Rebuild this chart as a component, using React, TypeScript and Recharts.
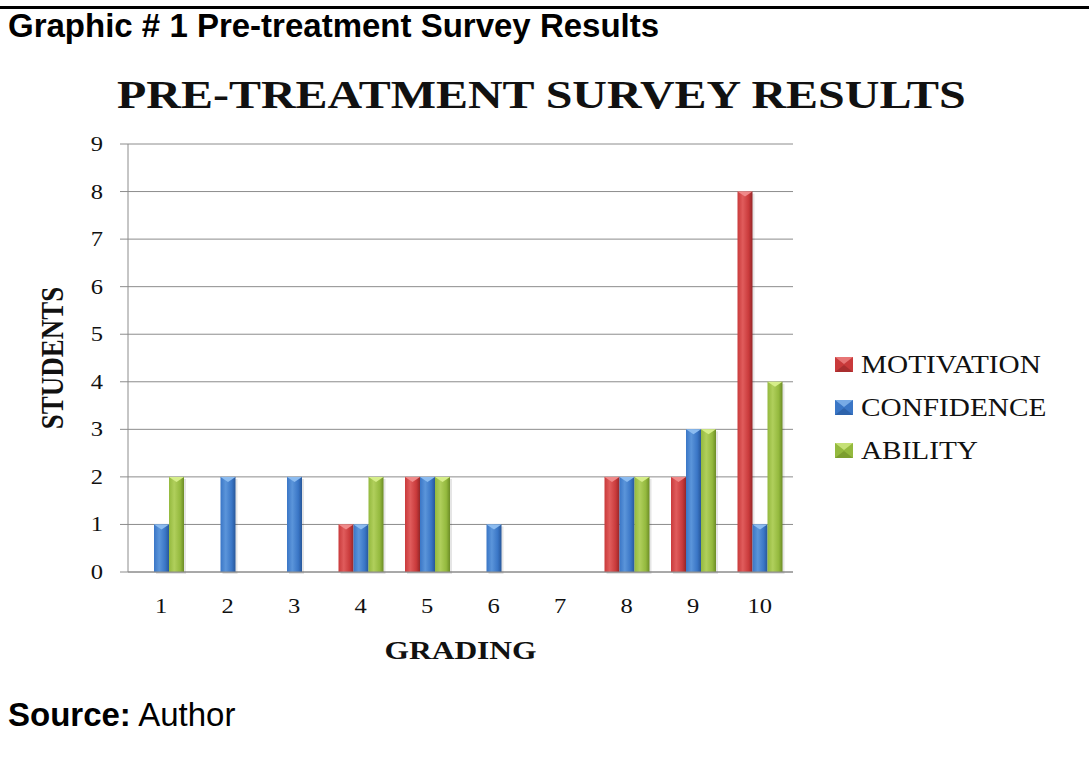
import React from "react";
import { Bar, BarChart, CartesianGrid, XAxis, YAxis } from "recharts";

const GRADES = ["1", "2", "3", "4", "5", "6", "7", "8", "9", "10"];
const MOTIVATION = [0, 0, 0, 1, 2, 0, 0, 2, 2, 8];
const CONFIDENCE = [1, 2, 2, 1, 2, 1, 0, 2, 3, 1];
const ABILITY = [2, 0, 0, 2, 2, 0, 0, 2, 3, 4];
const Y_TICKS = [0, 1, 2, 3, 4, 5, 6, 7, 8, 9];

const SERIES = [
  { key: "motivation", name: "MOTIVATION", light: "#e05c5c", base: "#c93a3b", dark: "#952628", top: "#f08a8a" },
  { key: "confidence", name: "CONFIDENCE", light: "#5b95da", base: "#3a76c6", dark: "#27579a", top: "#8cbcf0" },
  { key: "ability", name: "ABILITY", light: "#b0cf5c", base: "#94b93e", dark: "#6c8c26", top: "#d6ee8a" },
];

const data = GRADES.map((g, i) => ({
  grade: g,
  motivation: MOTIVATION[i],
  confidence: CONFIDENCE[i],
  ability: ABILITY[i],
}));

const SERIF = "'Liberation Serif', 'Times New Roman', serif";
const SANS = "'Liberation Sans', Arial, sans-serif";
const GRID = "#8c8c8c";
const STRETCH = 1.17;

function Bar3D(props: any) {
  const { x, y, width, height, sk } = props;
  if (!height || height <= 0) return null;
  const s = SERIES.find((q) => q.key === sk)!;
  const tip = Math.min(5, height);
  return (
    <g>
      <rect x={x + 2} y={y + 2} width={width} height={height} fill="#000" opacity={0.1} />
      <rect x={x} y={y} width={width} height={height} fill={`url(#g-${sk})`} />
      <polygon points={`${x},${y} ${x + width},${y} ${x + width / 2},${y + tip}`} fill={s.top} />
    </g>
  );
}

function XTick({ x, y, payload }: any) {
  return (
    <text transform={`translate(${x} ${y + 41}) scale(${STRETCH} 1)`} textAnchor="middle" fontFamily={SERIF} fontSize={21} fill="#111">
      {payload.value}
    </text>
  );
}

function YTick({ x, y, payload }: any) {
  return (
    <text transform={`translate(${x} ${y + 7}) scale(${STRETCH} 1)`} textAnchor="end" fontFamily={SERIF} fontSize={21} fill="#111">
      {payload.value}
    </text>
  );
}

function LegendBlock() {
  return (
    <>
      {SERIES.map((s, i) => (
        <div key={s.key} style={{ position: "absolute", left: 835, top: 352 + i * 43, height: 25, whiteSpace: "nowrap" }}>
          <svg width={18} height={15} style={{ position: "absolute", left: 0, top: 5 }}>
            <rect x={0} y={0} width={18} height={15} fill={s.base} />
            <polygon points="0,0 18,0 9,7" fill={s.top} opacity={0.75} />
            <polygon points="0,15 18,15 9,8" fill={s.dark} opacity={0.6} />
          </svg>
          <span
            style={{
              position: "absolute",
              left: 26,
              top: 0,
              fontFamily: SERIF,
              fontSize: 25,
              lineHeight: 1,
              color: "#111",
              transform: `scaleX(${STRETCH})`,
              transformOrigin: "left center",
            }}
          >
            {s.name}
          </span>
        </div>
      ))}
    </>
  );
}

export default function App() {
  return (
    <div style={{ position: "relative", width: 1089, height: 758, background: "#fff", overflow: "hidden" }}>
      <style>{`body{margin:0}`}</style>
      <div style={{ position: "absolute", left: 0, top: 6, width: 1089, height: 3, background: "#000" }} />
      <div style={{ position: "absolute", left: 8, top: 9, fontFamily: SANS, fontWeight: 700, fontSize: 33, lineHeight: 1, color: "#000", whiteSpace: "nowrap" }}>
        Graphic # 1 Pre-treatment Survey Results
      </div>
      <div
        style={{
          position: "absolute",
          left: 117,
          top: 74,
          fontFamily: SERIF,
          fontWeight: 700,
          fontSize: 41,
          lineHeight: 1,
          color: "#111",
          whiteSpace: "nowrap",
          transform: `scaleX(${STRETCH})`,
          transformOrigin: "left center",
        }}
      >
        PRE-TREATMENT SURVEY RESULTS
      </div>
      <div style={{ position: "absolute", left: 8, top: 698, fontFamily: SANS, fontSize: 33, lineHeight: 1, color: "#000", whiteSpace: "nowrap" }}>
        <b>Source:</b> Author
      </div>
      <div style={{ position: "absolute", left: 0, top: 0 }}>
        <BarChart width={1089} height={758} data={data} margin={{ top: 144, right: 296, bottom: 0, left: 0 }} barSize={15} barGap={0}>
          <defs>
            {SERIES.map((s) => (
              <linearGradient key={s.key} id={`g-${s.key}`} x1="0" y1="0" x2="1" y2="0">
                <stop offset="0%" stopColor={s.base} />
                <stop offset="35%" stopColor={s.light} />
                <stop offset="75%" stopColor={s.base} />
                <stop offset="100%" stopColor={s.dark} />
              </linearGradient>
            ))}
          </defs>
          <CartesianGrid stroke={GRID} vertical={false} />
          <XAxis
            dataKey="grade"
            height={186}
            axisLine={{ stroke: GRID }}
            tickLine={false}
            tickSize={0}
            tickMargin={0}
            tick={<XTick />}
            label={{
              content: (p: any) => (
                <text
                  transform={`translate(${p.viewBox.x + p.viewBox.width / 2} ${p.viewBox.y + 87}) scale(1.26 1)`}
                  textAnchor="middle"
                  fontFamily={SERIF}
                  fontWeight={700}
                  fontSize={25}
                  fill="#111"
                >
                  GRADING
                </text>
              ),
            }}
          />
          <YAxis
            width={128}
            domain={[0, 9]}
            ticks={Y_TICKS}
            interval={0}
            axisLine={{ stroke: GRID }}
            tickLine={{ stroke: GRID }}
            tickSize={8}
            tickMargin={17}
            tick={<YTick />}
            label={{
              content: (p: any) => (
                <text
                  transform={`translate(${p.viewBox.x + 53} ${p.viewBox.y + p.viewBox.height / 2}) scale(${STRETCH} 1) rotate(-90)`}
                  textAnchor="middle"
                  dy="0.33em"
                  fontFamily={SERIF}
                  fontWeight={700}
                  fontSize={27}
                  fill="#111"
                >
                  STUDENTS
                </text>
              ),
            }}
          />
          {SERIES.map((s) => (
            <Bar key={s.key} dataKey={s.key} name={s.name} isAnimationActive={false} shape={(p: any) => <Bar3D {...p} sk={s.key} />} />
          ))}
        </BarChart>
      </div>
      <LegendBlock />
    </div>
  );
}
